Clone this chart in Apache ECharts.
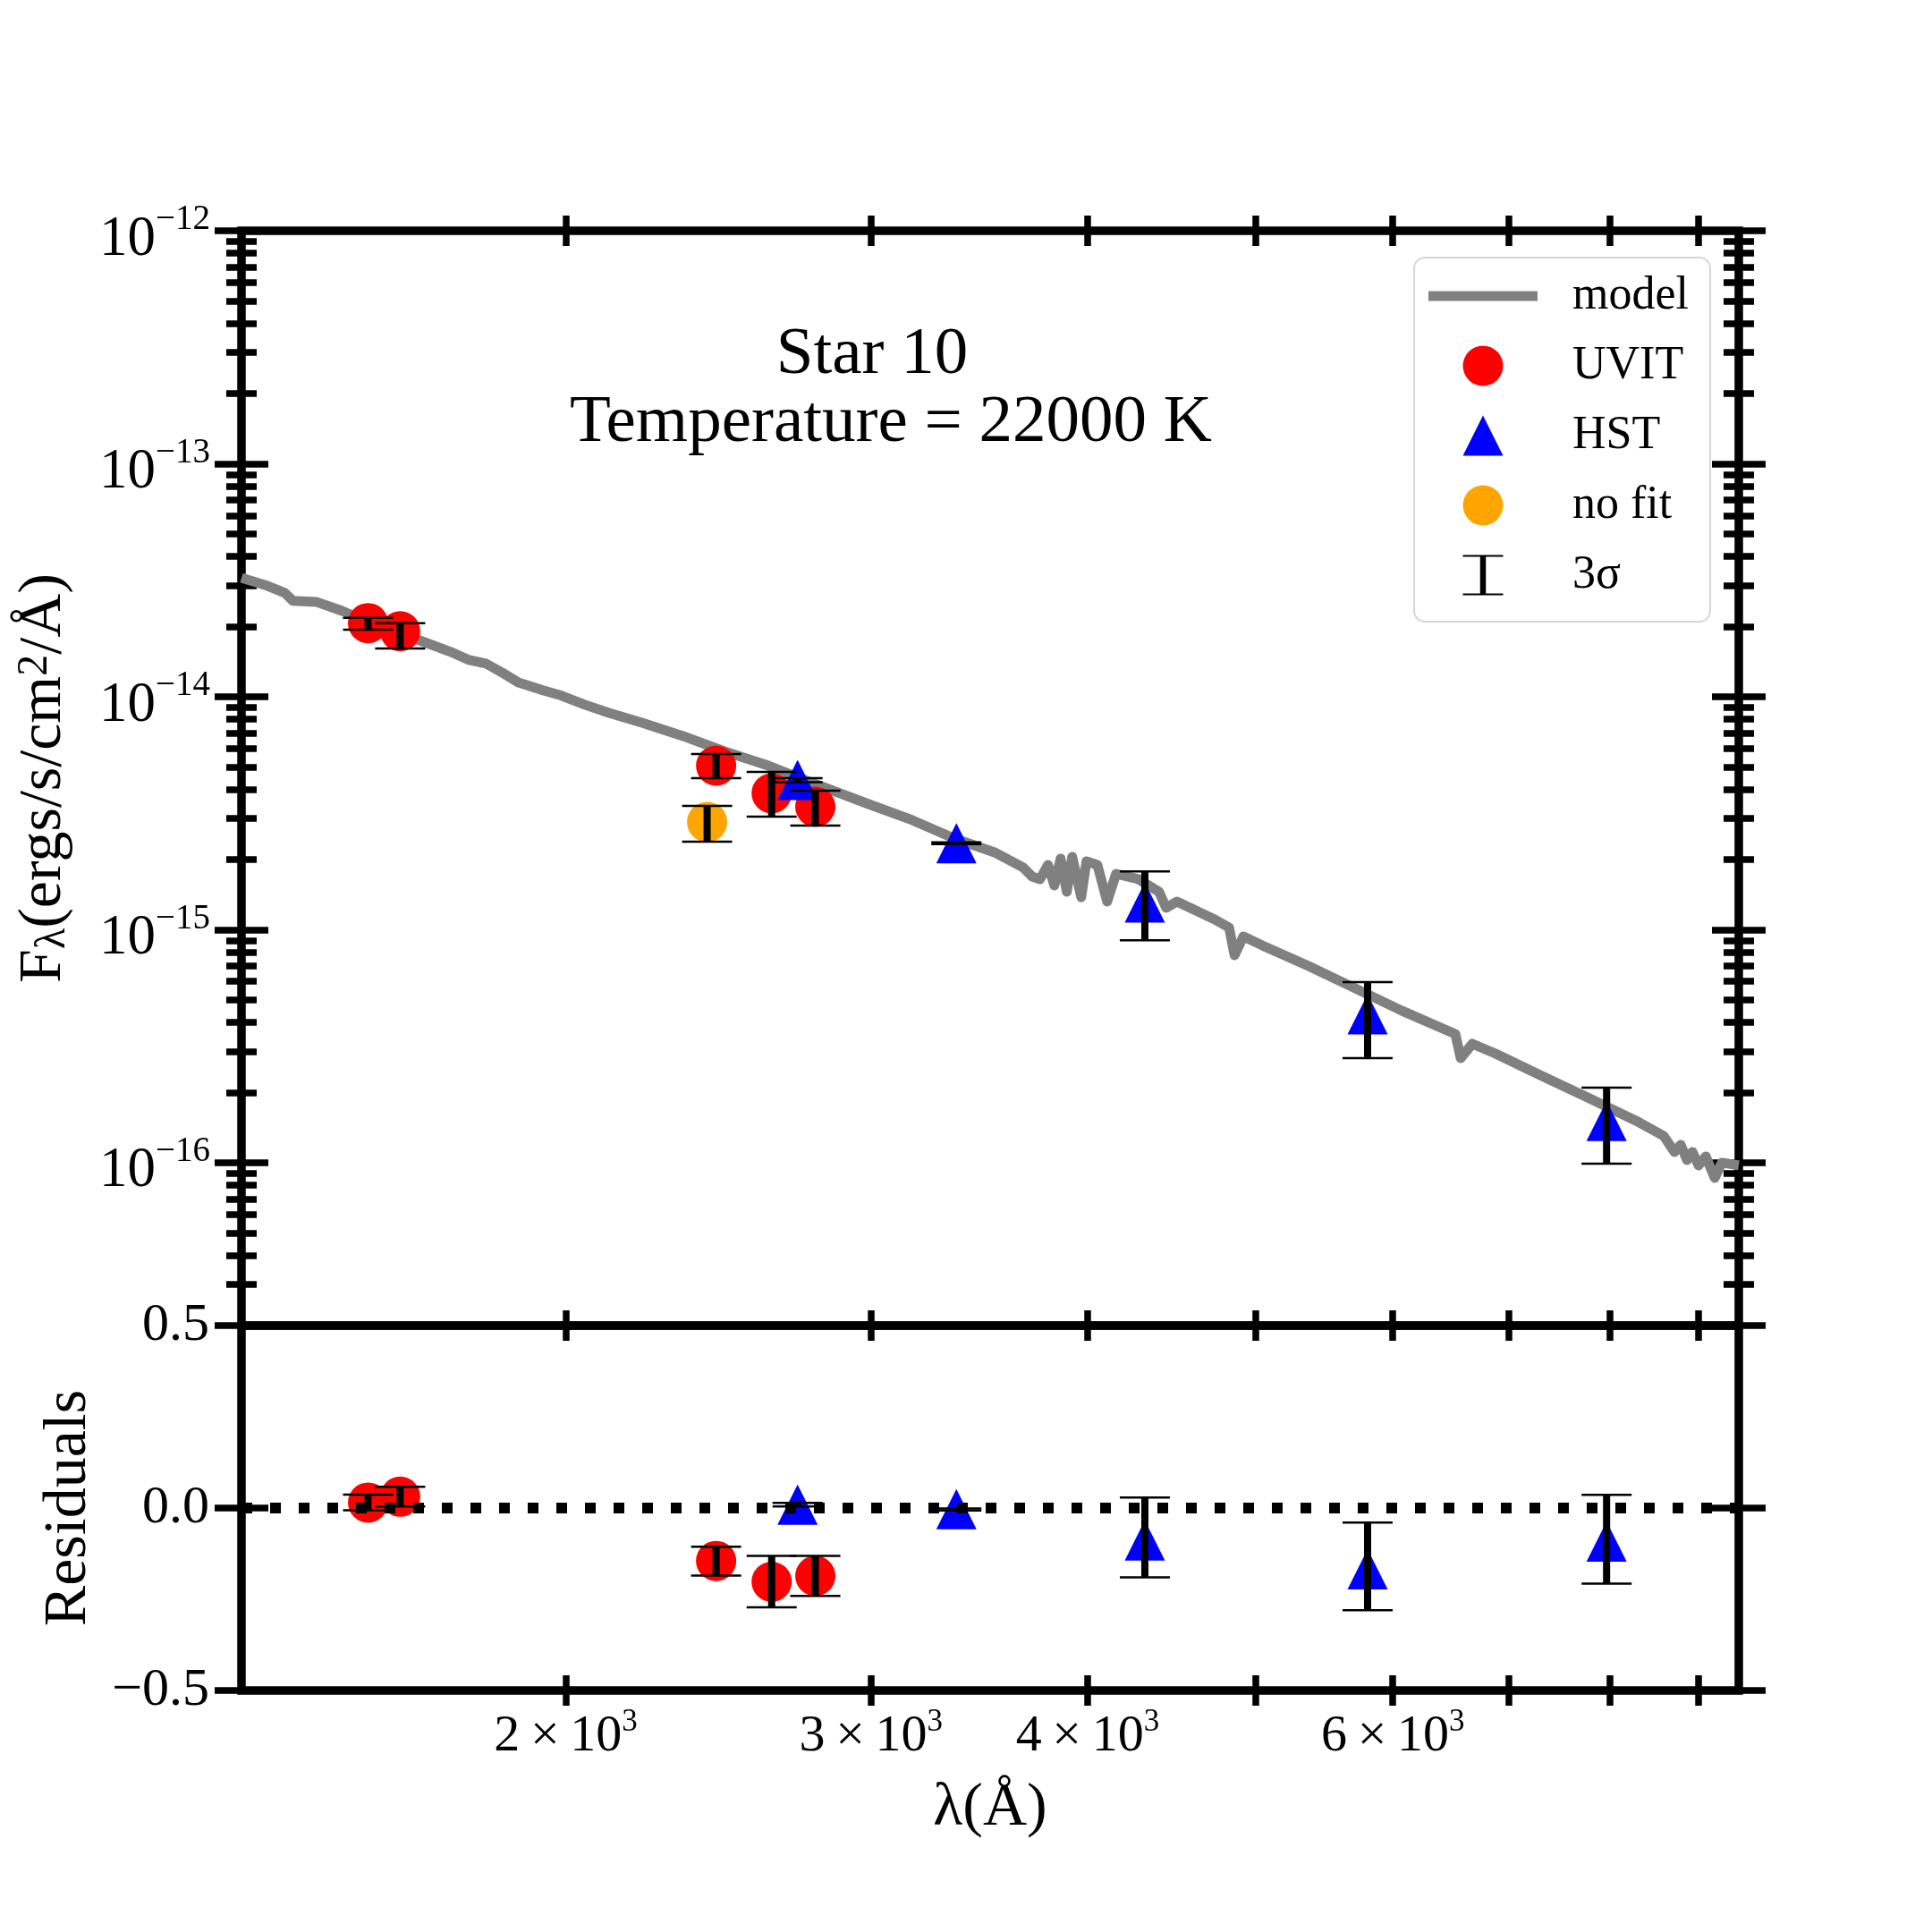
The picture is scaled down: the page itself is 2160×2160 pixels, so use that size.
<!DOCTYPE html>
<html>
<head>
<meta charset="utf-8">
<title>Star 10 SED</title>
<script src="https://cdn.jsdelivr.net/npm/echarts@6/dist/echarts.min.js"></script>
<style>
html, body { margin: 0; padding: 0; background: #fff; }
#main { width: 2160px; height: 2160px; }
</style>
</head>
<body>
<div id="main"></div>
<script>
// model spectrum: wavelength (Å) and flux (ergs/s/cm2/Å)
var modelLam = [
  1300, 1346, 1377, 1392, 1437, 1486, 1535, 1658, 1722, 1759,
  1799, 1838, 1878, 1942, 1983, 2051, 2118, 2213, 2337, 2469,
  2608, 2754, 3000, 3169, 3347, 3535, 3672, 3715, 3755, 3795,
  3827, 3859, 3891, 3919, 3966, 3994, 4052, 4105, 4154, 4279,
  4398, 4440, 4504, 4736, 4827, 4862, 4920, 5044, 5364, 5706,
  6070, 6465, 6519, 6566, 6668, 6877, 7315, 7791, 8286, 8598,
  8722, 8795, 8868, 8932, 9006, 9092, 9201, 9289, 9500
];
var modelFlux = [
  3.24e-14, 2.99e-14, 2.79e-14, 2.58e-14, 2.55e-14, 2.335e-14, 2.10e-14, 1.715e-14, 1.542e-14, 1.437e-14,
  1.387e-14, 1.269e-14, 1.151e-14, 1.064e-14, 1.018e-14, 9.24e-15, 8.53e-15, 7.74e-15, 6.78e-15, 5.83e-15,
  5.11e-15, 4.36e-15, 3.43e-15, 2.953e-15, 2.474e-15, 2.148e-15, 1.849e-15, 1.692e-15, 1.648e-15, 1.898e-15,
  1.549e-15, 2.02e-15, 1.456e-15, 2.056e-15, 1.380e-15, 1.967e-15, 1.898e-15, 1.321e-15, 1.737e-15, 1.648e-15,
  1.456e-15, 1.242e-15, 1.321e-15, 1.107e-15, 1.022e-15, 7.77e-16, 9.36e-16, 8.57e-16, 6.99e-16, 5.61e-16,
  4.495e-16, 3.665e-16, 3.570e-16, 2.812e-16, 3.24e-16, 2.939e-16, 2.357e-16, 1.889e-16, 1.515e-16, 1.303e-16,
  1.112e-16, 1.193e-16, 1.027e-16, 1.112e-16, 9.74e-17, 1.064e-16, 8.61e-17, 1.0e-16, 9.74e-17
];

// UVIT photometry
var uvitLam = [1538, 1605, 2442, 2629, 2786];
var uvitFlux = [2.07e-14, 1.91e-14, 5.06e-15, 3.85e-15, 3.37e-15];
var uvitLo = [1.94e-14, 1.61e-14, 4.47e-15, 3.06e-15, 2.80e-15];
var uvitHi = [2.18e-14, 2.07e-14, 5.68e-15, 4.76e-15, 3.95e-15];
var uvitRes = [0.015, 0.031, -0.145, -0.202, -0.186];
var uvitResLo = [-0.006, 0.004, -0.185, -0.272, -0.241];
var uvitResHi = [0.037, 0.058, -0.106, -0.131, -0.131];

// HST photometry
var hstLam = [2721, 3360, 4316, 5802, 7970];
var hstFlux = [4.39e-15, 2.35e-15, 1.31e-15, 4.34e-16, 1.51e-16];
var hstLo = [4.30e-15, 2.33e-15, 9.0e-16, 2.81e-16, 9.9e-17];
var hstHi = [4.47e-15, 2.37e-15, 1.78e-15, 5.96e-16, 2.10e-16];
var hstRes = [0.009, -0.003, -0.089, -0.168, -0.092];
var hstResLo = [0.004, -0.007, -0.190, -0.280, -0.207];
var hstResHi = [0.014, -0.001, 0.029, -0.040, 0.036];

// point not used in the fit
var nofitLam = [2413];
var nofitFlux = [2.90e-15];
var nofitLo = [2.39e-15];
var nofitHi = [3.40e-15];

// axis ticks
var xTicks = [2000, 3000, 4000, 5000, 6000, 7000, 8000, 9000];
var xLabelTicks = [2000, 3000, 4000, 6000];
var yMajor = [1e-16, 1e-15, 1e-14, 1e-13, 1e-12];
var yMinor = [];
[-17, -16, -15, -14, -13].forEach(function (e) {
  for (var m = 2; m <= 9; m++) {
    if (e === -17 && m === 2) continue;
    yMinor.push(m * Math.pow(10, e));
  }
});
var resTicks = [-0.5, 0, 0.5];

var FONT = 'Liberation Serif';
var myChart = echarts.init(document.getElementById('main'));

function pairs(xs, ys) {
  return xs.map(function (x, i) { return [x, ys[i]]; });
}
function triples(xs, lo, hi) {
  return xs.map(function (x, i) { return [x, lo[i], hi[i]]; });
}

// vertical 3-sigma bar with thin caps
function errRender(params, api) {
  var x = api.value(0);
  var p0 = api.coord([x, api.value(1)]);
  var p1 = api.coord([x, api.value(2)]);
  var cap = 28;
  return {
    type: 'group',
    children: [
      { type: 'line', shape: { x1: p0[0], y1: p0[1], x2: p1[0], y2: p1[1] },
        style: { stroke: '#000', lineWidth: 8 } },
      { type: 'line', shape: { x1: p0[0] - cap, y1: p0[1], x2: p0[0] + cap, y2: p0[1] },
        style: { stroke: '#000', lineWidth: 2.5 } },
      { type: 'line', shape: { x1: p1[0] - cap, y1: p1[1], x2: p1[0] + cap, y2: p1[1] },
        style: { stroke: '#000', lineWidth: 2.5 } }
    ]
  };
}

var tickLine = { color: '#000', width: 7.5 };

function logX(grid, pos, extra) {
  return Object.assign({
    type: 'log', gridIndex: grid, position: pos, min: 1300, max: 9500, offset: -17,
    axisLine: { show: false, onZero: false },
    axisTick: { show: true, inside: false, length: 34, lineStyle: tickLine, customValues: xTicks },
    axisLabel: { show: false },
    splitLine: { show: false }
  }, extra || {});
}

function fluxY(pos, ticks, len, extra) {
  return Object.assign({
    type: 'log', gridIndex: 0, position: pos, min: 2e-17, max: 1e-12, offset: -len / 2,
    axisLine: { show: false, onZero: false },
    axisTick: { show: true, inside: false, length: len, lineStyle: tickLine, customValues: ticks },
    axisLabel: { show: false },
    splitLine: { show: false }
  }, extra || {});
}

function resY(pos, extra) {
  return Object.assign({
    type: 'value', gridIndex: 1, position: pos, min: -0.5, max: 0.5, offset: -30,
    axisLine: { show: false, onZero: false },
    axisTick: { show: true, inside: false, length: 60, lineStyle: tickLine, customValues: resTicks },
    axisLabel: { show: false },
    splitLine: { show: false }
  }, extra || {});
}

var option = {
  animation: false,
  backgroundColor: '#fff',
  textStyle: { fontFamily: FONT, color: '#000' },
  grid: [
    { left: 270, top: 258, width: 1674, height: 1224, show: true, borderColor: '#000', borderWidth: 9.5,
      backgroundColor: 'transparent', containLabel: false, outerBoundsMode: 'none' },
    { left: 270, top: 1482, width: 1674, height: 408, show: true, borderColor: '#000', borderWidth: 9.5,
      backgroundColor: 'transparent', containLabel: false, outerBoundsMode: 'none' }
  ],
  xAxis: [
    logX(0, 'bottom'),
    logX(0, 'top'),
    logX(1, 'bottom', {
      axisLabel: {
        show: true, customValues: xLabelTicks, margin: 35, color: '#000', fontFamily: FONT,
        formatter: function (v) {
          return '{b|' + Math.round(v / 1000) + '\u2009\u00d7\u200910}{s|3}';
        },
        rich: {
          b: { fontSize: 58, lineHeight: 58, fontFamily: FONT, color: '#000', padding: [9.5, 0, 0, 0] },
          s: { fontSize: 35, lineHeight: 35, fontFamily: FONT, color: '#000', verticalAlign: 'top' }
        }
      },
      name: '\u03bb(\u00c5)', nameLocation: 'middle', nameGap: 115,
      nameTextStyle: { fontSize: 68, lineHeight: 68, fontFamily: FONT, color: '#000' }
    })
  ],
  yAxis: [
    fluxY('left', yMajor, 60, {
      axisLabel: {
        show: true, customValues: yMajor, margin: 65, color: '#000', fontFamily: FONT,
        formatter: function (v) {
          var e = Math.round(Math.log10(v));
          return '{b|10}{s|' + (e < 0 ? '\u2212' + (-e) : e) + '}';
        },
        rich: {
          b: { fontSize: 63, lineHeight: 63, fontFamily: FONT, color: '#000', padding: [20, 0, 0, 0] },
          s: { fontSize: 39, lineHeight: 39, fontFamily: FONT, color: '#000', verticalAlign: 'top' }
        }
      },
      name: '{b|F}{sub|\u03bb}{b|(ergs/s/cm}{sup|2}{b|/\u00c5)}',
      nameLocation: 'middle', nameRotate: 90, nameGap: 186,
      nameTextStyle: {
        fontSize: 68, fontFamily: FONT, color: '#000',
        rich: {
          b: { fontSize: 68, lineHeight: 68, fontFamily: FONT, color: '#000', padding: [17, 0, 17, 0] },
          sub: { fontSize: 48, lineHeight: 48, fontFamily: FONT, color: '#000', verticalAlign: 'bottom' },
          sup: { fontSize: 48, lineHeight: 48, fontFamily: FONT, color: '#000', verticalAlign: 'top' }
        }
      }
    }),
    fluxY('left', yMinor, 34),
    fluxY('right', yMajor, 60),
    fluxY('right', yMinor, 34),
    resY('left', {
      axisLabel: {
        show: true, customValues: resTicks, margin: 66, color: '#000', fontFamily: FONT, fontSize: 60,
        formatter: function (v) {
          return (v < 0 ? '\u2212' : '') + Math.abs(v).toFixed(1);
        }
      },
      name: 'Residuals', nameLocation: 'middle', nameRotate: 90, nameGap: 189,
      nameTextStyle: { fontSize: 68, lineHeight: 68, fontFamily: FONT, color: '#000' }
    }),
    resY('right')
  ],
  legend: {
    orient: 'vertical',
    left: 1581,
    top: 288,
    padding: [17, 24, 26, 16],
    itemWidth: 122,
    itemHeight: 45,
    itemGap: 26,
    selectedMode: false,
    backgroundColor: 'rgba(255,255,255,0.8)',
    borderColor: '#d6d6d6',
    borderWidth: 2,
    borderRadius: 12,
    textStyle: { fontSize: 52, lineHeight: 45, fontFamily: FONT, color: '#000', padding: [0, 0, 0, 34] },
    data: [
      { name: 'model', icon: 'path://M0,0L122,0L122,11L0,11Z' },
      'UVIT',
      { name: 'HST', icon: 'path://M22.5,0L45,45L0,45Z' },
      'no fit',
      { name: '3\u03c3', icon: 'path://M0,0L56,0L56,2.5L0,2.5Z M24,2.5L32,2.5L32,53.5L24,53.5Z M0,53.5L56,53.5L56,56L0,56Z' }
    ]
  },
  graphic: [
    { type: 'text', x: 975, y: 397, silent: true,
      style: { text: 'Star 10', fontSize: 75, fontFamily: FONT, fill: '#000',
        textAlign: 'center', textVerticalAlign: 'middle', align: 'center', verticalAlign: 'middle' } },
    { type: 'text', x: 996, y: 473, silent: true,
      style: { text: 'Temperature = 22000 K', fontSize: 75, fontFamily: FONT, fill: '#000',
        textAlign: 'center', textVerticalAlign: 'middle', align: 'center', verticalAlign: 'middle' } }
  ],
  series: [
    {
      name: 'model', type: 'line', xAxisIndex: 0, yAxisIndex: 0, z: 2,
      data: pairs(modelLam, modelFlux), symbol: 'none', silent: true,
      lineStyle: { color: '#808080', width: 11, join: 'round' }, itemStyle: { color: '#808080' }
    },
    {
      name: 'UVIT', type: 'scatter', xAxisIndex: 0, yAxisIndex: 0, z: 3,
      data: pairs(uvitLam, uvitFlux), symbol: 'circle', symbolSize: 45, itemStyle: { color: '#ff0000', opacity: 1 }
    },
    {
      name: 'no fit', type: 'scatter', xAxisIndex: 0, yAxisIndex: 0, z: 3,
      data: pairs(nofitLam, nofitFlux), symbol: 'circle', symbolSize: 45, itemStyle: { color: '#ffa500', opacity: 1 }
    },
    {
      name: 'HST', type: 'scatter', xAxisIndex: 0, yAxisIndex: 0, z: 4,
      data: pairs(hstLam, hstFlux), symbol: 'triangle', symbolSize: 45, itemStyle: { color: '#0000ff', opacity: 1 }
    },
    {
      name: '3\u03c3', type: 'custom', xAxisIndex: 0, yAxisIndex: 0, z: 6,
      data: triples(uvitLam, uvitLo, uvitHi).concat(triples(nofitLam, nofitLo, nofitHi), triples(hstLam, hstLo, hstHi)),
      renderItem: errRender, encode: { x: 0, y: [1, 2] }, itemStyle: { color: '#000' }
    },
    {
      name: 'UVIT', type: 'scatter', xAxisIndex: 2, yAxisIndex: 4, z: 3,
      data: pairs(uvitLam, uvitRes), symbol: 'circle', symbolSize: 45, itemStyle: { color: '#ff0000', opacity: 1 }
    },
    {
      name: 'HST', type: 'scatter', xAxisIndex: 2, yAxisIndex: 4, z: 4,
      data: pairs(hstLam, hstRes), symbol: 'triangle', symbolSize: 45, itemStyle: { color: '#0000ff', opacity: 1 }
    },
    {
      name: 'zero', type: 'line', xAxisIndex: 2, yAxisIndex: 4, z: 5, symbol: 'none', silent: true,
      data: [[1300, 0], [9500, 0]],
      lineStyle: { color: '#000', width: 12, type: [12, 20], cap: 'butt' }
    },
    {
      name: '3\u03c3', type: 'custom', xAxisIndex: 2, yAxisIndex: 4, z: 6,
      data: triples(uvitLam, uvitResLo, uvitResHi).concat(triples(hstLam, hstResLo, hstResHi)),
      renderItem: errRender, encode: { x: 0, y: [1, 2] }, itemStyle: { color: '#000' }
    }
  ]
};

myChart.setOption(option);
</script>
</body>
</html>
